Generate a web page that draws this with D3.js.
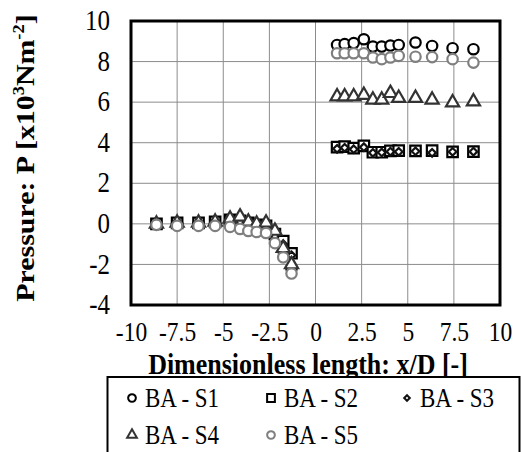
<!DOCTYPE html>
<html><head><meta charset="utf-8">
<script src="https://cdn.jsdelivr.net/npm/d3@7"></script>
<style>body{margin:0;background:#fff}svg{display:block}</style>
</head><body>
<svg id="c" width="521" height="452"></svg>
<script>
const xPositions = [-8.62,-7.5,-6.34,-5.44,-4.63,-4.09,-3.64,-3.19,-2.68,-2.2,-1.75,-1.3,
                    1.17,1.58,2.07,2.62,3.11,3.59,4.06,4.51,5.42,6.32,7.43,8.56];
const s1 = [0,0,0,0,0.1,0.05,-0.1,-0.15,-0.3,-0.6,-1.3,-2.2,
            8.82,8.86,8.91,9.1,8.74,8.74,8.79,8.82,8.94,8.77,8.66,8.61];
const s2 = [0,0.05,0.05,0.1,0.2,0.15,0.05,-0.05,-0.1,-0.5,-0.85,-1.45,
            3.78,3.81,3.73,3.84,3.53,3.53,3.6,3.61,3.6,3.61,3.55,3.56];
const s3 = [0,0,0,0.05,0.1,0.1,0,-0.1,-0.2,-0.6,-1.0,-1.55,
            3.7,3.75,3.68,3.78,3.5,3.52,3.56,3.55,3.58,3.5,3.55,3.56];
const s4 = [0,0.05,0.05,0.1,0.25,0.35,0.1,0,0.05,-0.35,-1.2,-2.0,
            6.27,6.27,6.27,6.35,6.11,6.11,6.44,6.2,6.2,6.11,5.98,6.03];
const s5 = [-0.05,-0.1,-0.1,-0.1,-0.15,-0.25,-0.35,-0.4,-0.45,-0.95,-1.65,-2.45,
            8.41,8.41,8.41,8.41,8.2,8.12,8.2,8.28,8.24,8.22,8.12,7.95];
const seriesNames = ["BA - S1","BA - S2","BA - S3","BA - S4","BA - S5"];
const xTicks = [-10,-7.5,-5,-2.5,0,2.5,5,7.5,10];
const yTicks = [-4,-2,0,2,4,6,8,10];

const SY = 1.15; // vertical stretch of text in the reference
const diamond = {draw(ctx,size){const r=Math.sqrt(size)/2*1.2;ctx.moveTo(0,-r);ctx.lineTo(r,0);ctx.lineTo(0,r);ctx.lineTo(-r,0);ctx.closePath();}};
const series = [
  {name:seriesNames[0], values:s1, shape:d3.symbolCircle, size:85, color:"#000"},
  {name:seriesNames[1], values:s2, shape:d3.symbolSquare, size:110, color:"#000"},
  {name:seriesNames[2], values:s3, shape:diamond, size:40, color:"#111"},
  {name:seriesNames[3], values:s4, shape:d3.symbolTriangle, size:75, color:"#333"},
  {name:seriesNames[4], values:s5, shape:d3.symbolCircle, size:85, color:"#7f7f7f"}
];

const svg = d3.select("#c");
const L=131, R=500, T=21, B=305;
const x = d3.scaleLinear().domain([-10,10]).range([L,R]);
const y = d3.scaleLinear().domain([-4,10]).range([B,T]);
const font = "'Liberation Serif','Times New Roman',serif";

// grid
svg.append("g").selectAll("line").data(xTicks).join("line")
  .attr("x1",d=>x(d)).attr("x2",d=>x(d)).attr("y1",T).attr("y2",B)
  .attr("stroke","#8c8c8c").attr("stroke-width",1);
svg.append("g").selectAll("line").data(yTicks).join("line")
  .attr("y1",d=>y(d)).attr("y2",d=>y(d)).attr("x1",L).attr("x2",R)
  .attr("stroke","#8c8c8c").attr("stroke-width",1);

// axes labels
const yAxis = d3.axisLeft(y).tickValues(yTicks).tickSize(0).tickPadding(21).tickFormat(d=>String(d));
const gy = svg.append("g").attr("transform",`translate(${L},0)`).call(yAxis);
gy.select(".domain").remove();
gy.selectAll("text").attr("font-family",font).attr("font-size",25).attr("fill","#000")
  .attr("dy","0.3em").attr("transform",`scale(1,${SY})`);

const xAxis = d3.axisBottom(x).tickValues(xTicks).tickSize(0).tickFormat(d=>String(d));
const gx = svg.append("g").attr("transform",`translate(0,${B})`).call(xAxis);
gx.select(".domain").remove();
gx.selectAll("text").attr("font-family",font).attr("font-size",23.5).attr("fill","#000")
  .attr("y",0).attr("dy",0).attr("transform",`translate(0,35.5) scale(1,${SY})`);

// points
series.forEach(s=>{
  svg.append("g").selectAll("path").data(s.values).join("path")
    .attr("d", d3.symbol().type(s.shape).size(s.size))
    .attr("transform",(d,i)=>`translate(${x(xPositions[i])},${y(d)})`)
    .attr("fill","#fff").attr("stroke",s.color).attr("stroke-width",2.2);
});

// frame
svg.append("rect").attr("x",L).attr("y",T).attr("width",R-L).attr("height",B-T)
  .attr("fill","none").attr("stroke","#000").attr("stroke-width",3);

// titles
svg.append("text").attr("transform",`translate(308,374) scale(1,${SY})`).attr("text-anchor","middle")
  .attr("font-family",font).attr("font-size",26).attr("font-weight","bold")
  .text("Dimensionless length: x/D [-]");
const yt = svg.append("text").attr("transform",`translate(34,158) rotate(-90) scale(${SY},1)`)
  .attr("text-anchor","middle").attr("font-family",font).attr("font-size",26).attr("font-weight","bold");
yt.append("tspan").text("Pressure: P [x10");
yt.append("tspan").attr("font-size",16).attr("dy",-10).text("3");
yt.append("tspan").attr("dy",10).text("Nm");
yt.append("tspan").attr("font-size",16).attr("dy",-10).text("-2");
yt.append("tspan").attr("dy",10).text("]");

// legend
svg.append("rect").attr("x",107.5).attr("y",377).attr("width",412).attr("height",90)
  .attr("fill","#fff").attr("stroke","#000").attr("stroke-width",2);
const legPos = [[132,398],[271,398],[407,398],[132,435],[271,435]];
series.forEach((s,i)=>{
  const [lx,ly]=legPos[i];
  svg.append("path").attr("d",d3.symbol().type(s.shape).size(s.size*0.55)())
    .attr("transform",`translate(${lx},${ly})`).attr("fill","#fff")
    .attr("stroke",s.color).attr("stroke-width",2);
  svg.append("text").attr("transform",`translate(${lx+13},${ly+9}) scale(1,${SY})`)
    .attr("font-family",font).attr("font-size",23).text(s.name);
});
</script>
</body></html>
